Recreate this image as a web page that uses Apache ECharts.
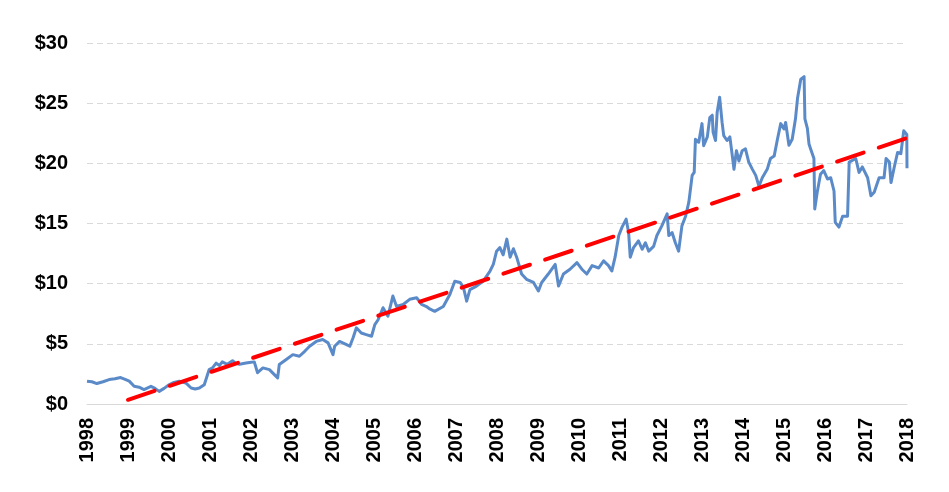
<!DOCTYPE html>
<html>
<head>
<meta charset="utf-8">
<script src="https://cdn.jsdelivr.net/npm/echarts@6/dist/echarts.min.js"></script>
<style>
html,body{margin:0;padding:0;background:#fff;}
#chart{width:949px;height:492px;}
</style>
</head>
<body>
<div id="chart"></div>
<script>
// Price series (decimal year, dollars)
var priceYears = [
1998.00,1998.12,1998.24,1998.39,1998.54,1998.68,1998.82,1998.93,1999.03,1999.15,
1999.27,1999.39,1999.56,1999.66,1999.76,1999.88,2000.00,2000.12,2000.25,2000.41,
2000.54,2000.64,2000.74,2000.86,2000.98,2001.06,2001.15,2001.23,2001.30,2001.42,
2001.55,2001.62,2001.72,2001.88,2001.96,2002.08,2002.16,2002.29,2002.45,2002.57,
2002.65,2002.69,2002.86,2003.02,2003.18,2003.31,2003.43,2003.59,2003.75,2003.88,
2004.00,2004.04,2004.16,2004.33,2004.41,2004.49,2004.57,2004.69,2004.81,2004.94,
2005.02,2005.10,2005.22,2005.34,2005.46,2005.55,2005.71,2005.87,2006.04,2006.16,
2006.28,2006.36,2006.48,2006.69,2006.85,2006.97,2007.10,2007.18,2007.26,2007.34,
2007.50,2007.66,2007.83,2007.91,2007.99,2008.07,2008.15,2008.24,2008.32,2008.40,
2008.48,2008.60,2008.72,2008.89,2009.01,2009.09,2009.25,2009.42,2009.50,2009.62,
2009.78,2009.95,2010.07,2010.19,2010.32,2010.48,2010.60,2010.72,2010.80,2010.88,
2010.97,2011.05,2011.15,2011.21,2011.25,2011.33,2011.45,2011.54,2011.62,2011.70,
2011.82,2011.90,2012.02,2012.15,2012.19,2012.27,2012.35,2012.43,2012.47,2012.51,
2012.60,2012.68,2012.76,2012.81,2012.84,2012.92,2013.00,2013.04,2013.13,2013.19,
2013.25,2013.27,2013.33,2013.37,2013.43,2013.49,2013.53,2013.61,2013.68,2013.74,
2013.78,2013.84,2013.90,2013.98,2014.06,2014.14,2014.23,2014.31,2014.39,2014.47,
2014.59,2014.67,2014.76,2014.84,2014.92,2015.00,2015.04,2015.12,2015.20,2015.28,
2015.33,2015.37,2015.41,2015.49,2015.51,2015.57,2015.61,2015.65,2015.73,2015.75,
2015.81,2015.89,2015.97,2016.06,2016.14,2016.22,2016.25,2016.34,2016.43,2016.55,
2016.59,2016.75,2016.83,2016.91,2017.04,2017.12,2017.20,2017.32,2017.44,2017.49,
2017.57,2017.61,2017.69,2017.77,2017.85,2017.92,2017.995,2018.00
];
var priceValues = [
1.9,1.85,1.7,1.85,2.03,2.1,2.2,2.05,1.9,1.47,
1.4,1.2,1.47,1.3,1.05,1.3,1.6,1.8,1.9,1.75,
1.33,1.25,1.33,1.6,2.86,3.0,3.4,3.2,3.5,3.3,
3.6,3.4,3.3,3.4,3.45,3.5,2.6,3.0,2.86,2.44,
2.17,3.28,3.7,4.1,3.97,4.38,4.8,5.2,5.36,5.08,
4.1,4.8,5.2,4.94,4.8,5.5,6.33,5.9,5.77,5.63,
6.6,7.0,8.0,7.3,8.97,8.1,8.27,8.7,8.83,8.27,
8.1,7.9,7.7,8.1,9.1,10.2,10.1,9.7,8.55,9.5,
9.8,10.2,11.05,11.6,12.7,13.0,12.4,13.7,12.2,12.9,
12.2,10.8,10.36,10.1,9.4,10.1,10.8,11.6,9.8,10.8,
11.2,11.75,11.2,10.8,11.5,11.3,11.9,11.5,11.05,12.2,
14.0,14.7,15.36,14.25,12.2,13.0,13.55,12.86,13.4,12.7,
13.1,14.0,14.8,15.8,14.0,14.25,13.4,12.7,12.6,14.8,
15.6,16.8,19.0,19.25,22.0,21.75,23.3,21.47,22.2,23.8,
24.0,22.6,21.9,24.25,25.5,23.4,22.3,21.9,22.2,20.6,
19.5,21.05,20.2,21.05,21.2,20.1,19.5,19.0,18.1,18.8,
19.5,20.4,20.6,22.0,23.3,22.85,23.4,21.5,22.0,23.7,
25.4,25.5,27.0,27.2,23.7,22.9,21.6,21.2,20.4,16.2,
17.6,19.1,19.4,18.7,18.8,17.7,15.1,14.7,15.6,15.6,
20.1,20.4,19.25,19.7,18.8,17.3,17.6,18.8,18.8,20.4,
20.1,18.4,19.7,20.9,20.8,22.7,22.4,19.6
];
// Linear trend line end points
var trendYears = [1999.0, 2018.0];
var trendValues = [0.35, 22.1];
// Axis ticks
var yTicks = [0, 5, 10, 15, 20, 25, 30];
var xFirstYear = 1998, xLastYear = 2018;

var priceData = priceYears.map(function (y, i) { return [y, priceValues[i]]; });
var trendData = trendYears.map(function (y, i) { return [y, trendValues[i]]; });

var chart = echarts.init(document.getElementById('chart'), null, {renderer: 'canvas'});
chart.setOption({
  animation: false,
  backgroundColor: '#ffffff',
  grid: {left: 87, right: 42, top: 43, bottom: 88, containLabel: false},
  xAxis: {
    type: 'value',
    min: xFirstYear,
    max: xLastYear,
    interval: 1,
    axisLine: {show: true, lineStyle: {color: '#d9d9d9', width: 1}},
    axisTick: {show: false},
    splitLine: {show: false},
    axisLabel: {
      rotate: 90,
      margin: 14,
      color: '#000',
      fontFamily: 'Liberation Sans, Arial, sans-serif',
      fontWeight: 'bold',
      fontSize: 20,
      formatter: function (v) { return String(Math.round(v)); }
    }
  },
  yAxis: {
    type: 'value',
    min: yTicks[0],
    max: yTicks[yTicks.length - 1],
    interval: yTicks[1] - yTicks[0],
    axisLine: {show: false},
    axisTick: {show: false},
    splitLine: {show: true, lineStyle: {color: '#d9d9d9', width: 1, type: [6, 4]}},
    axisLabel: {
      margin: 19,
      color: '#000',
      fontFamily: 'Liberation Sans, Arial, sans-serif',
      fontWeight: 'bold',
      fontSize: 20,
      formatter: function (v) { return '$' + v; }
    }
  },
  series: [
    {
      type: 'line',
      data: priceData,
      showSymbol: false,
      symbol: 'none',
      lineStyle: {color: '#5b8ac8', width: 3, join: 'round'},
      z: 2
    },
    {
      type: 'line',
      data: trendData,
      showSymbol: false,
      symbol: 'none',
      lineStyle: {color: '#ff0000', width: 4, type: [28, 16], cap: 'round'},
      z: 3
    }
  ]
});
</script>
</body>
</html>
